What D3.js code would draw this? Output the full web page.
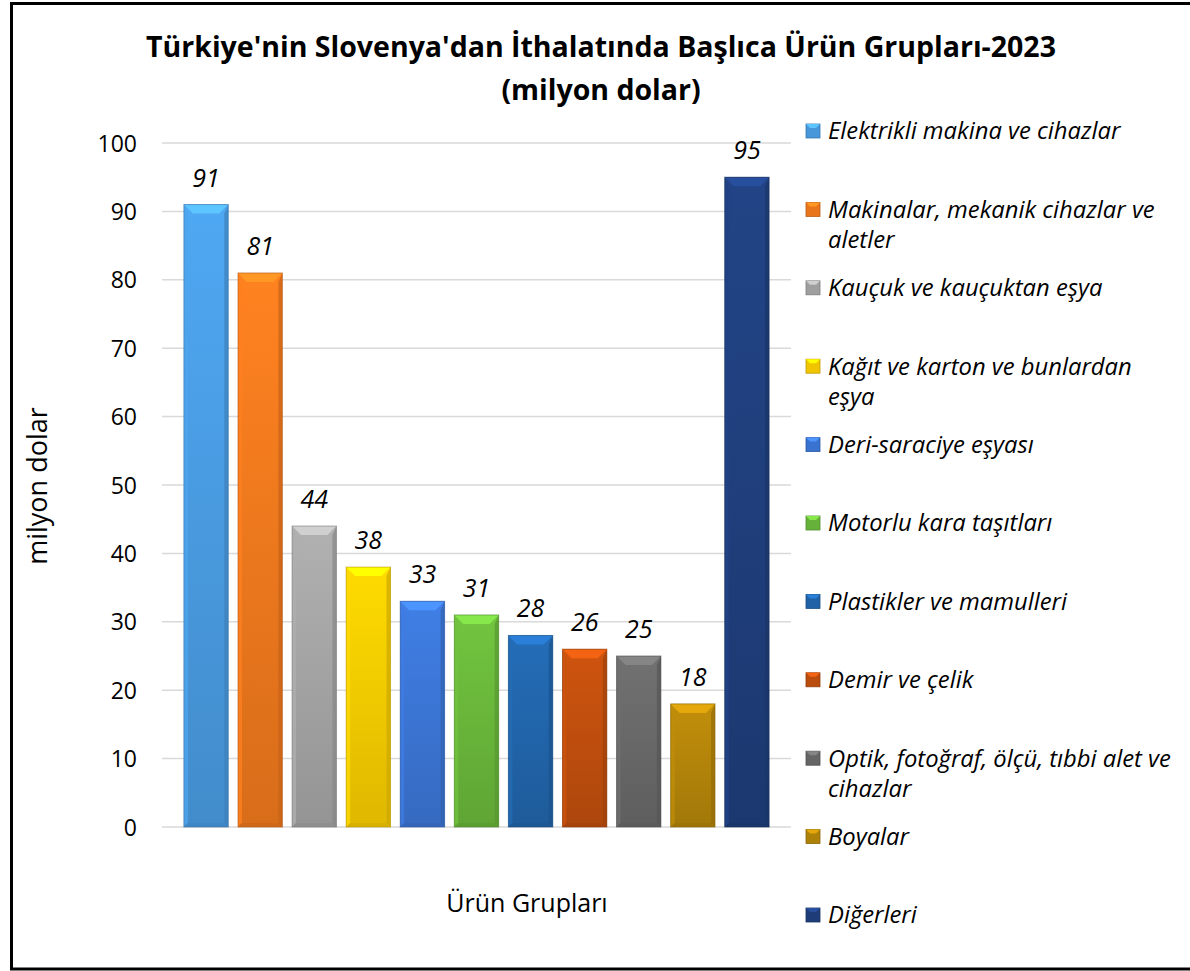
<!DOCTYPE html>
<html>
<head>
<meta charset="utf-8">
<script src="https://cdn.jsdelivr.net/npm/d3@7/dist/d3.min.js"></script>
<style>
  html, body { margin: 0; padding: 0; background: #fff; }
  svg { display: block; }
</style>
</head>
<body>
<svg id="chart" width="1190" height="971"></svg>
<script>
const categories = [
  "Elektrikli makina ve cihazlar",
  "Makinalar, mekanik cihazlar ve aletler",
  "Kauçuk ve kauçuktan eşya",
  "Kağıt ve karton ve bunlardan eşya",
  "Deri-saraciye eşyası",
  "Motorlu kara taşıtları",
  "Plastikler ve mamulleri",
  "Demir ve çelik",
  "Optik, fotoğraf, ölçü, tıbbi alet ve cihazlar",
  "Boyalar",
  "Diğerleri"
];
const values = [91, 81, 44, 38, 33, 31, 28, 26, 25, 18, 95];
const colors = ["#4b9fe6", "#f57b1e", "#a8a8a8", "#fdd000", "#3d78da", "#6cbb3c",
                "#2267ae", "#c4500e", "#6b6b6b", "#b8880a", "#20407f"];
const yTicks = [0, 10, 20, 30, 40, 50, 60, 70, 80, 90, 100];
const titleLines = ["Türkiye'nin Slovenya'dan İthalatında Başlıca Ürün Grupları-2023", "(milyon dolar)"];
const yTitle = "milyon dolar";
const xTitle = "Ürün Grupları";

const FONT = "'Open Sans', Lato, sans-serif";
const svg = d3.select("#chart");

// frame
svg.append("rect").attr("x", 11.5).attr("y", 3.5).attr("width", 1300).attr("height", 965.5)
  .attr("fill", "#fff").attr("stroke", "#000").attr("stroke-width", 3);

const plot = { left: 162, right: 791, top: 143, bottom: 827 };
const y = d3.scaleLinear().domain([0, 100]).range([plot.bottom, plot.top]);
const x = d3.scaleBand().domain(categories).range([plot.left, plot.right])
  .paddingInner(0.18).paddingOuter(0.405);

// gridlines
svg.append("g").selectAll("line").data(yTicks).join("line")
  .attr("x1", plot.left).attr("x2", plot.right)
  .attr("y1", d => y(d)).attr("y2", d => y(d))
  .attr("stroke", "#d9d9d9").attr("stroke-width", 1.5);

// y axis labels
const yAxis = d3.axisLeft(y).tickValues(yTicks).tickSize(0).tickPadding(0);
const yg = svg.append("g").attr("transform", `translate(${137},0)`).call(yAxis);
yg.select(".domain").remove();
yg.selectAll("text").attr("font-family", FONT).attr("font-size", 23).attr("fill", "#000")
  .attr("dy", "0.35em").attr("x", 0);

// defs for gradients
const defs = svg.append("defs");
colors.forEach((c, i) => {
  const g = defs.append("linearGradient").attr("id", "g" + i)
    .attr("x1", 0).attr("x2", 0).attr("y1", 0).attr("y2", 1);
  g.append("stop").attr("offset", 0).attr("stop-color", d3.color(c).brighter(0.15));
  g.append("stop").attr("offset", 1).attr("stop-color", d3.color(c).darker(0.35));
});

// bars with bevel
const bars = svg.append("g").selectAll("g").data(values).join("g");
bars.each(function(v, i) {
  const g = d3.select(this);
  const c = d3.color(colors[i]);
  const x0 = x(categories[i]), x1 = x0 + x.bandwidth();
  const y0 = y(v), y1 = y(0);
  const b = 9;
  g.append("rect").attr("x", x0).attr("y", y0).attr("width", x1 - x0).attr("height", y1 - y0)
    .attr("fill", `url(#g${i})`);
  g.append("polygon").attr("points", [[x0, y0], [x1, y0], [x1 - b, y0 + b], [x0 + b, y0 + b]].join(" "))
    .attr("fill", c.brighter(0.6));
  g.append("polygon").attr("points", [[x0, y0], [x0 + 4, y0 + b], [x0 + 4, y1 - 4], [x0, y1]].join(" "))
    .attr("fill", c.brighter(0.1)).attr("opacity", 0.8);
  g.append("polygon").attr("points", [[x1, y0], [x1 - 4, y0 + b], [x1 - 4, y1 - 4], [x1, y1]].join(" "))
    .attr("fill", c.darker(0.6)).attr("opacity", 0.7);
  g.append("polygon").attr("points", [[x0, y1], [x0 + 4, y1 - 4], [x1 - 4, y1 - 4], [x1, y1]].join(" "))
    .attr("fill", c.darker(0.5)).attr("opacity", 0.7);
  g.append("rect").attr("x", x0).attr("y", y0).attr("width", x1 - x0).attr("height", y1 - y0)
    .attr("fill", "none").attr("stroke", c.darker(0.9)).attr("stroke-width", 1).attr("opacity", 0.6);
});

// data labels
svg.append("g").selectAll("text").data(values).join("text")
  .attr("x", (d, i) => x(categories[i]) + x.bandwidth() / 2)
  .attr("y", d => y(d) - 18)
  .attr("text-anchor", "middle")
  .attr("font-family", FONT).attr("font-style", "italic").attr("font-size", 25)
  .text(d => d);

// title
svg.append("g").selectAll("text").data(titleLines).join("text")
  .attr("x", 601).attr("y", (d, i) => 57 + i * 43)
  .attr("text-anchor", "middle")
  .attr("font-family", FONT).attr("font-weight", "bold").attr("font-size", 28.5)
  .text(d => d);

// axis titles
svg.append("text").attr("transform", "translate(47,486) rotate(-90)")
  .attr("text-anchor", "middle").attr("font-family", FONT).attr("font-size", 27)
  .text(yTitle);
svg.append("text").attr("x", 527).attr("y", 912)
  .attr("text-anchor", "middle").attr("font-family", FONT).attr("font-size", 25)
  .text(xTitle);

// legend
const legendTop = 131, legendStep = 78.4, maxW = 350;
const lg = svg.append("g");
categories.forEach((cat, i) => {
  const cy = legendTop + i * legendStep;
  const c = d3.color(colors[i]);
  const mx = 806, ms = 14;
  lg.append("rect").attr("x", mx).attr("y", cy - ms / 2).attr("width", ms).attr("height", ms)
    .attr("fill", c.darker(0.15)).attr("stroke", c.darker(0.8)).attr("stroke-width", 0.8);
  lg.append("polygon").attr("points", [[mx, cy - ms / 2], [mx + ms, cy - ms / 2], [mx + ms - 4, cy - ms / 2 + 4], [mx + 4, cy - ms / 2 + 4]].join(" "))
    .attr("fill", c.brighter(0.6));
  const t = lg.append("text").attr("x", 828).attr("y", cy)
    .attr("font-family", FONT).attr("font-style", "italic").attr("font-size", 23.8);
  const words = cat.split(" ");
  let line = [];
  let tspan = t.append("tspan").attr("x", 828).attr("dy", "0.35em");
  words.forEach(w => {
    line.push(w);
    tspan.text(line.join(" "));
    if (tspan.node().getComputedTextLength() > maxW && line.length > 1) {
      line.pop();
      tspan.text(line.join(" "));
      line = [w];
      tspan = t.append("tspan").attr("x", 828).attr("dy", 30).text(w);
    }
  });
});
</script>
</body>
</html>
